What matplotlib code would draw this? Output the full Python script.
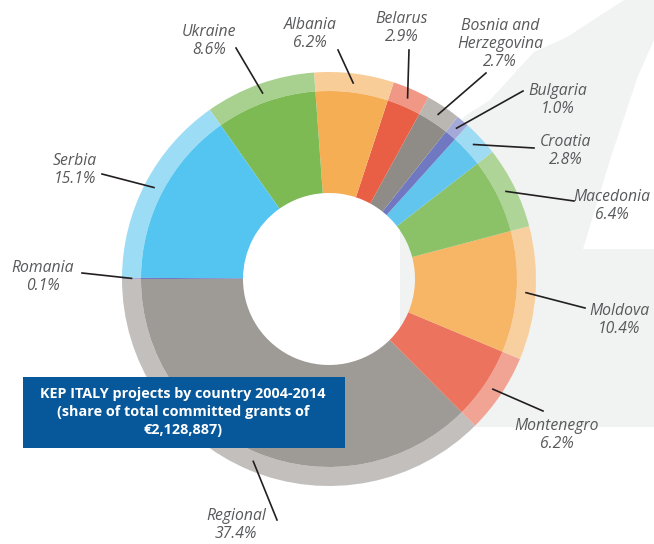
import numpy as np
import matplotlib.pyplot as plt
from matplotlib.patches import Polygon, Rectangle

# Datos del grafico (porcentaje de subvenciones por pais)
paises = ['Regional', 'Montenegro', 'Moldova', 'Macedonia', 'Croatia', 'Bulgaria',
          'Bosnia and\nHerzegovina', 'Belarus', 'Albania', 'Ukraine', 'Serbia', 'Romania']
valores = [37.4, 6.2, 10.4, 6.4, 2.8, 1.0, 2.7, 2.9, 6.2, 8.6, 15.1, 0.1]
colores = ['#9e9a95', '#ec735e', '#f7b566', '#8bc268', '#62c5ee', '#6f78c0',
           '#8f8b86', '#e95f45', '#f6ae55', '#7dba53', '#53c5f0', '#6f78c0']
colores_claros = ['#c2bfbc', '#f1a394', '#f8d0a0', '#aed597', '#9fdcf4', '#a5a9d8',
                  '#bab7b2', '#f09885', '#f9cd98', '#a8d18f', '#9ddcf5', '#a5a9d8']

# Posicion de cada etiqueta y del extremo exterior de su linea (pixeles, y hacia abajo)
pos_texto = [(236, 525), (557, 435), (619, 320), (612, 206), (566, 151), (558, 100),
             (500, 44), (402, 28), (310, 34), (209, 41), (75, 170), (43, 277)]
fin_linea = [(277, 520), (543, 411), (585, 308), (574, 201), (534, 148), (523, 91),
             (486, 73), (409, 50), (338, 50), (236, 48), (102, 174), (82, 273)]

W, H = 654, 544
cx, cy = 329, 279
R_ext, R_med, R_hueco = 207, 188, 86


def py(y):
    # convertimos y de pixeles (hacia abajo) a coordenadas del eje
    return H - y


fig = plt.figure(figsize=(W / 100, H / 100), dpi=100)
ax = fig.add_axes([0, 0, 1, 1])

# Fondo gris claro decorativo
fondo = Polygon([(624, py(0)), (567, py(37)), (534, py(52)), (490, py(100)), (465, py(116)),
                 (400, py(200)), (400, py(427)), (W, py(427)), (W, py(0))],
                closed=True, facecolor='#f1f3f2', edgecolor='none', zorder=0)
ax.add_patch(fondo)
franja = Polygon([(583, py(249)), (610, py(160)), (638, py(76)), (W, py(40)), (W, py(249))],
                 closed=True, facecolor='white', edgecolor='none', zorder=0)
ax.add_patch(franja)

# Anillo exterior (claro) y anillo interior (color)
ax.pie(valores, colors=colores_claros, startangle=180, counterclock=True,
       radius=R_ext, center=(cx, py(cy)), wedgeprops=dict(width=R_ext - R_med, linewidth=0))
cunas, _ = ax.pie(valores, colors=colores, startangle=180, counterclock=True,
                  radius=R_med, center=(cx, py(cy)),
                  wedgeprops=dict(width=R_med - R_hueco, linewidth=0))

# Etiquetas con lineas
for cuna, nombre, v, (tx, ty), (lx, ly) in zip(cunas, paises, valores, pos_texto, fin_linea):
    ang = np.deg2rad((cuna.theta1 + cuna.theta2) / 2)
    r = (R_ext + R_med) / 2
    x0 = cx + r * np.cos(ang)
    y0 = py(cy) + r * np.sin(ang)
    ax.plot([x0, lx], [y0, py(ly)], color='#231f20', linewidth=1.2, zorder=5)
    ax.text(tx, py(ty), f'{nombre}\n{v:.1f}%', ha='center', va='center', fontsize=11.3,
            family='Open Sans', style='italic', color='#58595b', linespacing=1.15)

# Cuadro del titulo
ax.add_patch(Rectangle((23, py(448)), 322, 71, facecolor='#07589a', edgecolor='none', zorder=6))
ax.text(183, py(412), 'KEP ITALY projects by country 2004-2014\n(share of total committed grants of\n€2,128,887)',
        ha='center', va='center', fontsize=10.4, family='Open Sans', weight='bold',
        color='white', linespacing=1.35, zorder=7)

ax.set_xlim(0, W)
ax.set_ylim(0, H)
ax.set_aspect('equal')
ax.axis('off')
fig.savefig('out.png', dpi=100)
